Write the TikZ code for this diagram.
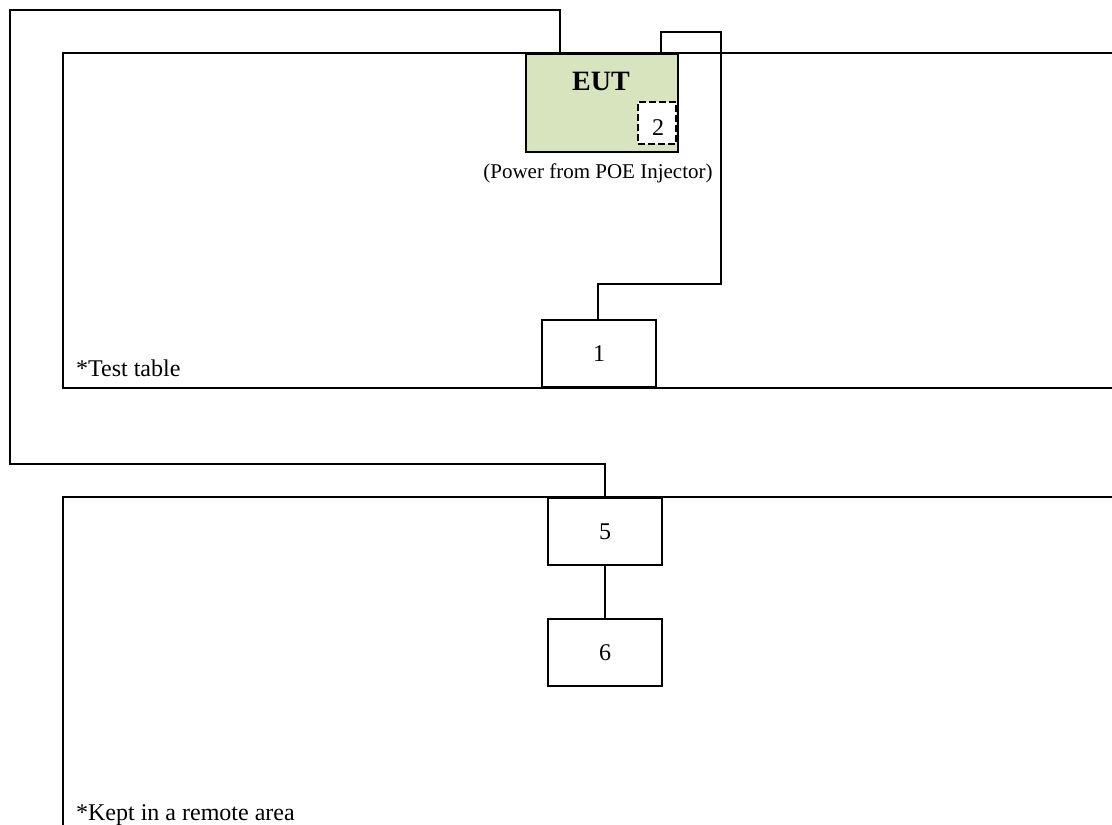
\documentclass[tikz,border=0pt]{standalone}
\usepackage{fontspec}
\setmainfont{Liberation Serif}
\definecolor{eutgreen}{HTML}{D7E4BD}
\begin{document}
\begin{tikzpicture}[x=1pt,y=-1pt,line width=2.3pt,
  unit/.style={draw,fill=white,minimum width=114pt,minimum height=67pt,inner sep=0pt,font=\fontsize{24}{28}\selectfont},
  note/.style={anchor=base west,inner sep=0pt,font=\fontsize{24}{28}\selectfont},
  cable/.style={line width=2.3pt}]
\useasboundingbox (0,0) rectangle (1112,825);
% test table frame
\draw (1112,53) -- (63,53) -- (63,388) -- (1112,388);
% remote area frame
\draw (1112,497) -- (63,497) -- (63,825);
% EUT
\node[draw,fill=eutgreen,minimum width=152pt,minimum height=98pt,inner sep=0pt,anchor=north west] (eut) at (525,53) {};
\node[font=\bfseries\fontsize{28}{32}\selectfont] (eutlbl) at (601,81) {EUT};
\node[draw,dash pattern=on 7pt off 3pt,fill=white,minimum width=38pt,minimum height=42pt,inner sep=0pt,anchor=north east] (two) at (677,101) {};
\node[font=\fontsize{24}{28}\selectfont] (twolbl) at (658,128) {2};
\node[font=\fontsize{21}{24}\selectfont] (pwr) at (598,173) {(Power from POE Injector)};
% units
\node[unit,anchor=south west] (u1) at (541,388) {1};
\node[unit,anchor=north west] (u5) at (547,497) {5};
\node[unit,anchor=north west] (u6) at (547,618) {6};
% notes
\node[note] (tt) at (75,376) {*Test table};
\node[note] (ka) at (75,820) {*Kept in a remote area};
% cables
\coordinate (c1a) at (560,53);
\coordinate (c5a) at (605,497);
\draw[cable] (c1a) -- (560,10) -- (10,10) -- (10,464) -- (605,464) -- (c5a);
\coordinate (c2a) at (661,53);
\coordinate (c2b) at (598,320);
\draw[cable] (c2a) -- (661,32) -- (721,32) -- (721,284) -- (598,284) -- (c2b);
\draw[cable] (u5.south) -- (u6.north);
\end{tikzpicture}
\end{document}
